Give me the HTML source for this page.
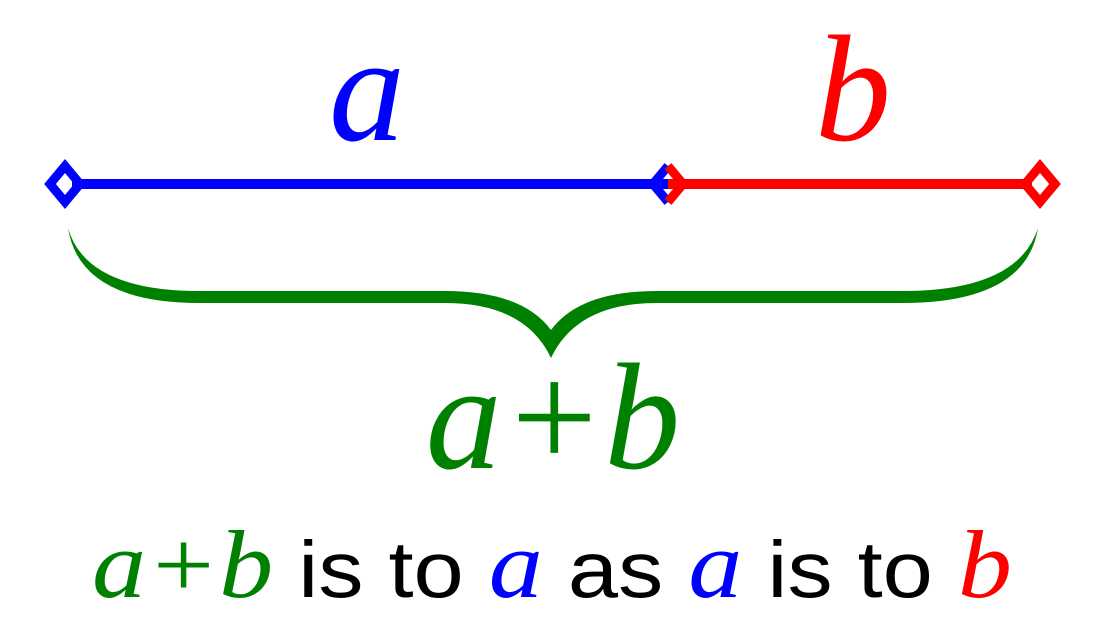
<!DOCTYPE html>
<html><head><meta charset="utf-8"><style>html,body{margin:0;padding:0;background:#fff}svg{display:block}</style></head>
<body>
<svg width="1106" height="639" viewBox="0 0 1106 639" xmlns="http://www.w3.org/2000/svg">
<rect width="1106" height="639" fill="#fff"/>
<line x1="72" y1="184" x2="668" y2="184" stroke="#0000ff" stroke-width="10"/>
<line x1="668" y1="184" x2="1032" y2="184" stroke="#ff0000" stroke-width="10"/>
<polygon points="65,166 80,184 65,202 50,184" fill="none" stroke="#0000ff" stroke-width="9"/>
<path d="M668,166 L653,184 L668,202" fill="none" stroke="#0000ff" stroke-width="9"/>
<path d="M668,166 L683,184 L668,202" fill="none" stroke="#ff0000" stroke-width="9"/>
<polygon points="1040,166 1055,184 1040,202 1025,184" fill="none" stroke="#ff0000" stroke-width="9"/>
<path d="M68,228 Q80,303 200,303 L445,303 Q525,303 551,358 Q577,303 657,303 L902,303 Q1026,303 1038,228 Q1018,291 902,291 L657,291 Q580,291 551,330 Q522,291 445,291 L200,291 Q86,291 68,228 Z" fill="#008000"/>
<g font-family="Liberation Serif, serif" font-style="italic" font-size="152" text-anchor="middle">
<text x="367" y="140" fill="#0000ff">a</text>
<text x="853" y="140" fill="#ff0000">b</text>
<text x="553" y="468" fill="#008000">a+b</text>
</g>
<text x="552" y="597" text-anchor="middle" font-size="80" font-family="Liberation Sans, sans-serif" textLength="920" lengthAdjust="spacingAndGlyphs"><tspan fill="#008000" font-family="Liberation Serif, serif" font-style="italic" font-size="96">a+b</tspan><tspan fill="#000"> is to </tspan><tspan fill="#0000ff" font-family="Liberation Serif, serif" font-style="italic" font-size="96">a</tspan><tspan fill="#000"> as </tspan><tspan fill="#0000ff" font-family="Liberation Serif, serif" font-style="italic" font-size="96">a</tspan><tspan fill="#000"> is to </tspan><tspan fill="#ff0000" font-family="Liberation Serif, serif" font-style="italic" font-size="96">b</tspan></text>
</svg>
</body></html>
